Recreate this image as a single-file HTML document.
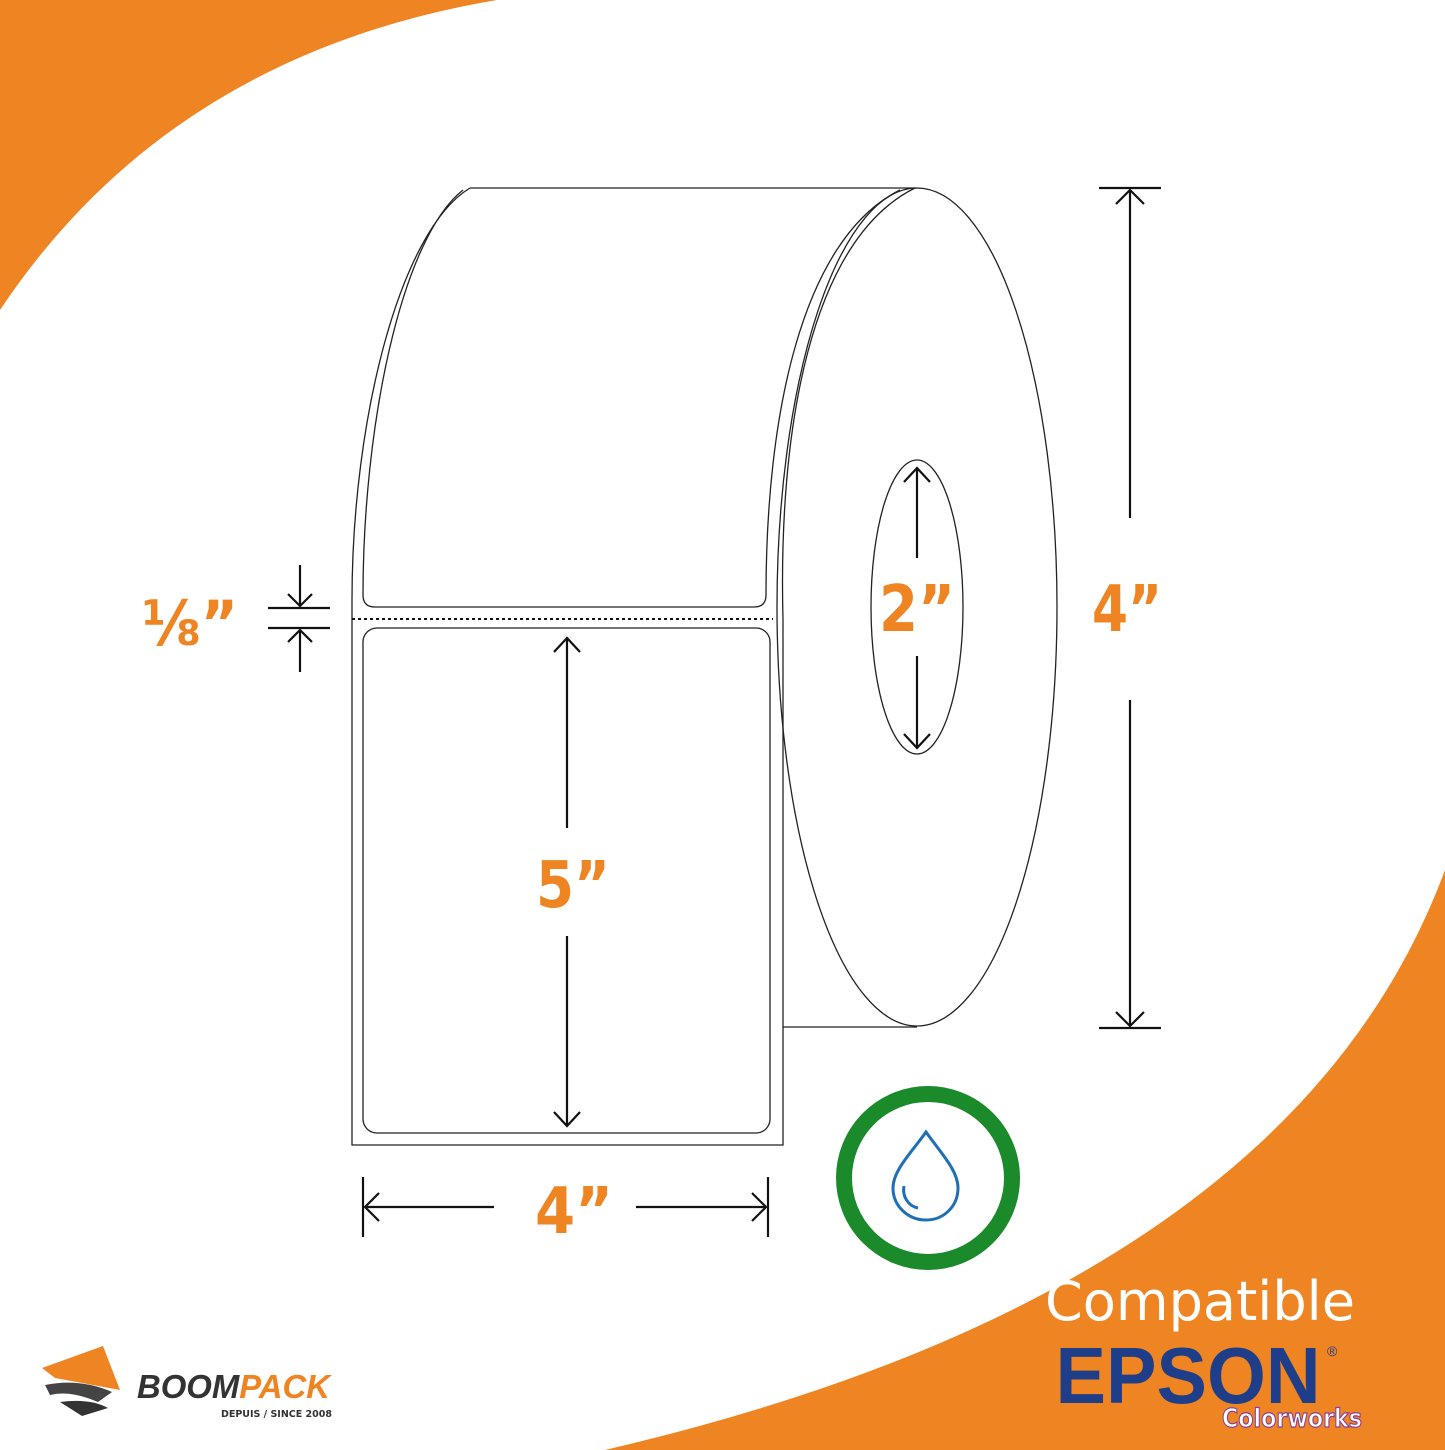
<!DOCTYPE html>
<html><head><meta charset="utf-8"><style>
html,body{margin:0;padding:0;background:#fff}
svg{display:block}
</style></head><body>
<svg width="1445" height="1450" viewBox="0 0 1445 1450" xmlns="http://www.w3.org/2000/svg">
<path d="M0,0 H497 Q170,55 0,310 Z" fill="#EE8422"/>
<path d="M1445,870 Q1290,1290 605,1450 L1445,1450 Z" fill="#EE8422"/>
<g fill="none" stroke="#222" stroke-width="1.3">
<line x1="470" y1="188" x2="917" y2="188"/>
<line x1="783" y1="1027" x2="917" y2="1027"/>
<ellipse cx="917" cy="607" rx="140" ry="419"/>
<ellipse cx="917" cy="607" rx="46" ry="147"/>
<path d="M470,188 C400,230 352,420 352,600 L352,1145 L783,1145 L783,620"/>
<path d="M463,190 C400,240 363,430 363,595 Q363,607 375,607 L754,607 Q766,607 766,595 C766,420 800,240 900,190"/>
<path d="M783,620 C778,430 810,240 915,188"/>
<rect x="363" y="628" width="407" height="505" rx="14"/>
</g>
<line x1="352" y1="619" x2="773" y2="619" stroke="#111" stroke-width="2" stroke-dasharray="3,3"/>
<g fill="none" stroke="#111" stroke-width="2.2">
<line x1="567" y1="638" x2="567" y2="828"/><path d="M554,652 L567,638 L580,652"/>
<line x1="567" y1="936" x2="567" y2="1126"/><path d="M554,1112 L567,1126 L580,1112"/>
<line x1="917" y1="468" x2="917" y2="558"/><path d="M904,482 L917,468 L930,482"/>
<line x1="917" y1="656" x2="917" y2="748"/><path d="M904,734 L917,748 L930,734"/>
<line x1="1099" y1="188" x2="1161" y2="188"/><line x1="1099" y1="1028" x2="1161" y2="1028"/>
<line x1="1130" y1="190" x2="1130" y2="518"/><path d="M1116,204 L1130,190 L1144,204"/>
<line x1="1130" y1="700" x2="1130" y2="1026"/><path d="M1116,1012 L1130,1026 L1144,1012"/>
<line x1="363" y1="1177" x2="363" y2="1237"/><line x1="768" y1="1177" x2="768" y2="1237"/>
<line x1="365" y1="1207" x2="494" y2="1207"/><path d="M379,1193 L365,1207 L379,1221"/>
<line x1="636" y1="1207" x2="766" y2="1207"/><path d="M752,1193 L766,1207 L752,1221"/>
<line x1="268" y1="608" x2="330" y2="608"/><line x1="268" y1="628" x2="330" y2="628"/>
<line x1="300" y1="565" x2="300" y2="606"/><path d="M288,594 L300,606 L312,594"/>
<line x1="300" y1="630" x2="300" y2="672"/><path d="M288,642 L300,630 L312,642"/>
</g>
<g font-family="'DejaVu Sans','Liberation Sans',sans-serif" font-weight="bold" fill="#EE8422" font-size="64">
<text x="573" y="907" text-anchor="middle" textLength="74" lengthAdjust="spacingAndGlyphs">5”</text>
<text x="917" y="631" text-anchor="middle" textLength="76" lengthAdjust="spacingAndGlyphs">2”</text>
<text x="1127" y="631" text-anchor="middle" textLength="70" lengthAdjust="spacingAndGlyphs">4”</text>
<text x="574" y="1233" text-anchor="middle" textLength="78" lengthAdjust="spacingAndGlyphs">4”</text>
<text x="190" y="645" text-anchor="middle" font-size="62" textLength="96" lengthAdjust="spacingAndGlyphs">⅛”</text>
</g>
<circle cx="928" cy="1178" r="84" fill="none" stroke="#1A8A2A" stroke-width="16"/>
<path d="M926,1132 C912,1152 893,1170 893,1188 C893,1206 908,1220 926,1220 C944,1220 958,1206 958,1188 C958,1170 940,1152 926,1132 Z" fill="none" stroke="#1E6FB8" stroke-width="3"/>
<path d="M904,1186 C902,1196 908,1206 918,1208" fill="none" stroke="#1E6FB8" stroke-width="3"/>
<text x="1200" y="1320" font-family="'DejaVu Sans','Liberation Sans',sans-serif" font-size="54" fill="#fff" text-anchor="middle" textLength="310" lengthAdjust="spacingAndGlyphs">Compatible</text>
<text x="1188" y="1403" font-family="'Liberation Sans',sans-serif" font-weight="bold" font-size="80" fill="#1F3E8A" text-anchor="middle" textLength="265" lengthAdjust="spacingAndGlyphs">EPSON</text>
<text x="1327" y="1356" font-family="'Liberation Sans',sans-serif" font-size="14" fill="#1F3E8A">®</text>
<text x="1222" y="1427" font-family="'DejaVu Sans','Liberation Sans',sans-serif" font-weight="bold" font-size="26" fill="#fff" stroke="#8a3f9a" stroke-width="1.2" textLength="140" lengthAdjust="spacingAndGlyphs">Colorworks</text>
<path d="M42,1368 L103,1346 L120,1390 L55,1378 Z" fill="#EE8422"/>
<path d="M45,1385 Q80,1378 112,1392 L98,1402 Q70,1390 50,1395 Z" fill="#444"/>
<path d="M60,1402 Q90,1398 108,1408 L82,1416 Z" fill="#333"/>
<text x="137" y="1398" font-family="'Liberation Sans',sans-serif" font-style="italic" font-weight="bold" font-size="33" fill="#333" textLength="193" lengthAdjust="spacingAndGlyphs">BOOM<tspan fill="#EE8422">PACK</tspan></text>
<text x="332" y="1417" font-family="'DejaVu Sans',sans-serif" font-weight="bold" font-size="9.5" fill="#333" text-anchor="end">DEPUIS / SINCE 2008</text>
</svg>
</body></html>
